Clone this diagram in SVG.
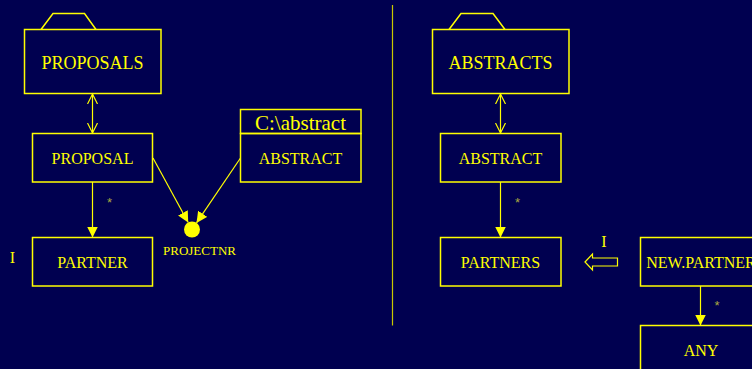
<svg xmlns="http://www.w3.org/2000/svg" width="752" height="369" viewBox="0 0 752 369">
  <defs>
    <style>
      .box { fill: none; stroke: #ffff00; stroke-width: 1.5; }
      .line { fill: none; stroke: #ffff00; stroke-width: 1.2; }
      .lbl { font-family: "Liberation Serif", "Times New Roman", serif; fill: #ffff00; text-anchor: middle; }
      .big { font-size: 18px; }
      .mid { font-size: 16px; }
      .small { font-size: 13px; }
      .star { font-family: "Liberation Sans", Arial, sans-serif; font-size: 13px; fill: #a8a840; text-anchor: middle; }
    </style>
    <marker id="open" markerUnits="userSpaceOnUse" markerWidth="12" markerHeight="12" refX="10" refY="5" orient="auto-start-reverse" viewBox="0 0 12 10">
      <path d="M0,0 L10,5 L0,10" fill="none" stroke="#ffff00" stroke-width="1.2"/>
    </marker>
    <marker id="solid" markerUnits="userSpaceOnUse" markerWidth="11" markerHeight="11" refX="10" refY="5" orient="auto" viewBox="0 0 10 10">
      <path d="M0,0 L10,5 L0,10 Z" fill="#ffff00"/>
    </marker>
  </defs>

  <rect width="752" height="369" fill="#000050"/>

  <!-- divider between the two halves -->
  <line x1="392.5" y1="5" x2="392.5" y2="325.5" stroke="#c8c800" stroke-width="1.2"/>

  <!-- left half -->
  <g id="proposals">
    <path class="box" d="M41,29.5 L53,13.5 L84.5,13.5 L96,29.5"/>
    <rect class="box" x="24.5" y="29.5" width="136.5" height="64"/>
    <text class="lbl big" x="92.5" y="69">PROPOSALS</text>
  </g>
  <g id="proposal">
    <rect class="box" x="32.5" y="133.5" width="120" height="48.5"/>
    <text class="lbl mid" x="92.5" y="164">PROPOSAL</text>
  </g>
  <g id="abstract-file">
    <rect class="box" x="240.5" y="109.5" width="120.5" height="24"/>
    <text class="lbl" style="font-size:21px" x="300.5" y="130">C:\abstract</text>
    <rect class="box" x="240.5" y="133.5" width="120.5" height="48.5"/>
    <text class="lbl mid" x="300.5" y="164">ABSTRACT</text>
  </g>
  <g id="partner">
    <rect class="box" x="32.5" y="237.5" width="120" height="48.5"/>
    <text class="lbl mid" x="92.5" y="268">PARTNER</text>
    <text class="lbl mid" x="12.5" y="263">I</text>
  </g>
  <g id="projectnr">
    <circle cx="192" cy="229.5" r="8" fill="#ffff00"/>
    <text class="lbl small" x="199.5" y="255">PROJECTNR</text>
  </g>

  <!-- right half -->
  <g id="abstracts">
    <path class="box" d="M449,29.5 L461,13.5 L493,13.5 L505,29.5"/>
    <rect class="box" x="432.5" y="29.5" width="136.5" height="64"/>
    <text class="lbl big" x="500.5" y="69">ABSTRACTS</text>
  </g>
  <g id="abstract">
    <rect class="box" x="440.5" y="133.5" width="120.5" height="48.5"/>
    <text class="lbl mid" x="500.5" y="164">ABSTRACT</text>
  </g>
  <g id="partners">
    <rect class="box" x="440.5" y="237.5" width="120.5" height="48.5"/>
    <text class="lbl mid" x="500.5" y="268">PARTNERS</text>
  </g>
  <g id="new-partner">
    <rect class="box" x="640.5" y="237.5" width="120.5" height="48.5"/>
    <text class="lbl mid" x="701" y="268">NEW.PARTNER</text>
  </g>
  <g id="any">
    <rect class="box" x="640.5" y="325.5" width="120.5" height="48.5"/>
    <text class="lbl mid" x="701" y="356">ANY</text>
  </g>

  <!-- connectors -->
  <g id="connectors">
    <line class="line" x1="92.5" y1="94" x2="92.5" y2="133" marker-start="url(#open)" marker-end="url(#open)"/>
    <line class="line" x1="92.5" y1="182" x2="92.5" y2="237.5" marker-end="url(#solid)"/>
    <text class="star" x="109.5" y="207">*</text>
    <line class="line" x1="153" y1="158" x2="188.2" y2="222.5" marker-end="url(#solid)"/>
    <line class="line" x1="240.5" y1="158" x2="196.5" y2="222.9" marker-end="url(#solid)"/>

    <line class="line" x1="500.5" y1="94" x2="500.5" y2="133" marker-start="url(#open)" marker-end="url(#open)"/>
    <line class="line" x1="500.5" y1="182" x2="500.5" y2="237.5" marker-end="url(#solid)"/>
    <text class="star" x="517.5" y="207">*</text>

    <path class="line" d="M585,262 L592.5,254 L592.5,258 L617.5,258 L617.5,266 L592.5,266 L592.5,270 Z"/>
    <text class="lbl mid" x="604" y="247">I</text>

    <line class="line" x1="700.5" y1="286" x2="700.5" y2="325.5" marker-end="url(#solid)"/>
    <text class="star" x="717" y="310">*</text>
  </g>
</svg>
